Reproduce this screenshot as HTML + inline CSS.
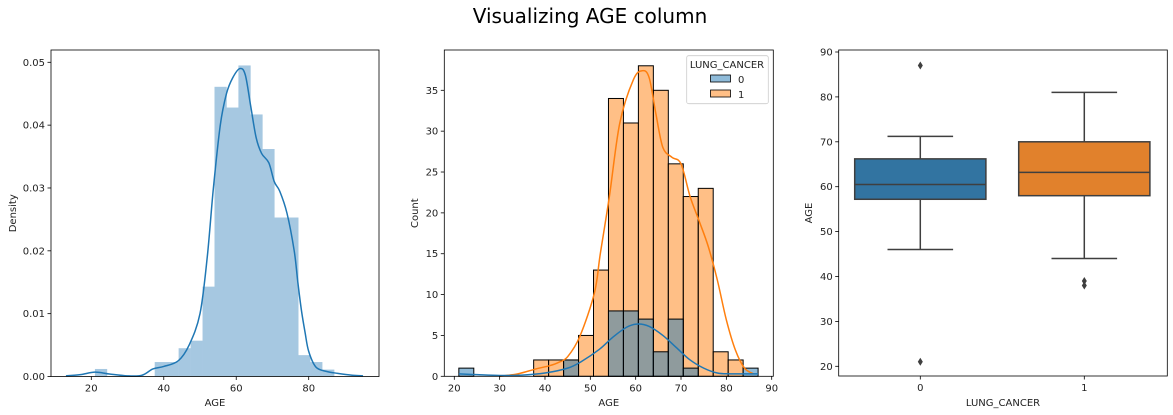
<!DOCTYPE html>
<html><head><meta charset="utf-8"><style>
html,body{margin:0;padding:0;background:#fff;width:1173px;height:415px;overflow:hidden}
svg{display:block;font-family:"DejaVu Sans","Liberation Sans",sans-serif}
</style></head><body>
<svg id="fig" width="1173" height="415" viewBox="0 0 1173 415" xmlns="http://www.w3.org/2000/svg">
<text x="590" y="23" text-anchor="middle" font-size="20" fill="#000">Visualizing AGE column</text>
</svg>
<script>
// ---------- data ----------
const binEdgesStart = 21, binWidth = 3.3;
const densityBins = [0.0012,0,0,0,0,0.0023,0.0023,0.0045,0.0057,0.0143,0.0461,0.0428,0.0495,0.0417,0.0362,0.0253,0.0253,0.0034,0.0023,0.0011];
const kdeAges = [13,17,21,25,30,34,37,40,44,47,50,52,53.7,55.6,57.3,59,61,62.5,64,65.5,67,69,70.5,72,74,76,77,78,79,80,82,85,88,92,95];
const kdeDensity = [0.0001,0.0003,0.0007,0.0004,0.0001,0.0002,0.0012,0.0016,0.0025,0.005,0.01,0.019,0.03,0.04,0.045,0.0475,0.049,0.048,0.043,0.038,0.0355,0.034,0.031,0.0295,0.026,0.02,0.015,0.0105,0.007,0.004,0.0015,0.0008,0.0005,0.0002,0.0001];
const countsCancer1 = [0,0,0,0,0,2,2,2,5,13,34,31,38,35,26,22,23,3,2,0];
const countsCancer0 = [1,0,0,0,0,0,0,2,0,0,8,8,7,3,7,1,0,0,0,1];
const kde1Ages = [30,34,38,41,43,45,47.7,50.9,52.2,54.2,56.5,59.5,61.5,63,64.5,66,68,70,72,74,76,78,80,82,84,86];
const kde1Counts = [0,0.3,0.9,1.3,1.7,2.4,4.9,10.2,15,22,31,36.3,37.4,36.5,32,28,26.8,26,22,19,15.9,11.8,6.9,3.2,1,0.3];
const kde0Ages = [21,25,30,35,40,45,48,52,55,58,60.5,63,66,69,72,75,78,81,87];
const kde0Counts = [0.3,0.2,0.1,0.15,0.4,1,1.8,3.3,4.8,6,6.4,6.1,5,3.5,2,1,0.4,0.3,0.3];
const boxCategories = ["0","1"];
const boxQ1 = [57.2,58], boxMed = [60.5,63.2], boxQ3 = [66.2,70];
const boxWhiskLo = [46,44], boxWhiskHi = [71.2,81];
const boxOutliers = [[87,21],[39,38]];
const ticks1X = [20,40,60,80], ticks1Y = [0,0.01,0.02,0.03,0.04,0.05];
const ticks2X = [20,30,40,50,60,70,80,90], ticks2Y = [0,5,10,15,20,25,30,35];
const ticks3Y = [20,30,40,50,60,70,80,90];

const NS="http://www.w3.org/2000/svg";
const fig=document.getElementById('fig');
function mk(tag,attrs,parent,txt){const e=document.createElementNS(NS,tag);for(const k in attrs)e.setAttribute(k,attrs[k]);if(txt!==undefined)e.textContent=txt;(parent||fig).appendChild(e);return e;}
function lin(d0,d1,r0,r1){return v=>r0+(v-d0)*(r1-r0)/(d1-d0);}
function frame(g,x0,y0,x1,y1){mk('rect',{x:x0,y:y0,width:x1-x0,height:y1-y0,fill:'none',stroke:'#000','stroke-width':0.8},g);}
function xtick(g,x,y,label){mk('line',{x1:x,x2:x,y1:y,y2:y+3.5,stroke:'#000','stroke-width':0.8},g);const t=mk('text',{x:x,y:y+15,'text-anchor':'middle','font-size':10,fill:'#222'},g,label);}
function ytick(g,x,y,label){mk('line',{x1:x-3.5,x2:x,y1:y,y2:y,stroke:'#000','stroke-width':0.8},g);const t=mk('text',{x:x-6,y:y+3.5,'text-anchor':'end','font-size':10,fill:'#222'},g,label);}
function pathFrom(xs,ys,X,Y){
 const P=xs.map((a,i)=>[X(a),Y(ys[i])]);
 let d='M'+P[0][0].toFixed(2)+','+P[0][1].toFixed(2);
 for(let i=0;i<P.length-1;i++){
  const p0=P[i-1]||P[i],p1=P[i],p2=P[i+1],p3=P[i+2]||P[i+1];
  const c1=[p1[0]+(p2[0]-p0[0])/6,p1[1]+(p2[1]-p0[1])/6];
  const c2=[p2[0]-(p3[0]-p1[0])/6,p2[1]-(p3[1]-p1[1])/6];
  d+=` C${c1[0].toFixed(2)},${c1[1].toFixed(2)} ${c2[0].toFixed(2)},${c2[1].toFixed(2)} ${p2[0].toFixed(2)},${p2[1].toFixed(2)}`;
 }
 return d;}

// ---------- panel 1 ----------
{
const g=mk('g',{});
const L=51,R=379,T=50,B=376.5;
const X=lin(20,80,91.3,308.7), Y=lin(0,0.05,376.5,62.3);
densityBins.forEach((d,i)=>{const a=binEdgesStart+i*binWidth;if(d<=0)return;
 const r=mk('rect',{x:X(a),y:Y(d),width:X(a+binWidth)-X(a)+0.3,height:Y(0)-Y(d),fill:'#a6c8e1'},g);
 });
const p=mk('path',{d:pathFrom(kdeAges,kdeDensity,X,Y),fill:'none',stroke:'#1f77b4','stroke-width':1.5},g);

frame(g,L,T,R,B);
ticks1X.forEach(v=>xtick(g,X(v),B,String(v)));
ticks1Y.forEach(v=>ytick(g,L,Y(v),v.toFixed(2)));
const xl=mk('text',{x:(L+R)/2,y:406,'text-anchor':'middle','font-size':10,fill:'#222'},g,'AGE');
const yl=mk('text',{x:16,y:(T+B)/2,'text-anchor':'middle','font-size':10,fill:'#222',transform:`rotate(-90 16 ${(T+B)/2})`},g,'Density');
}
// ---------- panel 2 ----------
{
const g=mk('g',{});
const L=444.3,R=773.3,T=50,B=376.3;
const X=lin(20,90,454.3,771.7), Y=lin(0,35,376.3,90.3);
countsCancer1.forEach((c,i)=>{const a=binEdgesStart+i*binWidth;if(c<=0)return;
 const r=mk('rect',{x:X(a),y:Y(c),width:X(a+binWidth)-X(a),height:Y(0)-Y(c),fill:'#ff7f0e','fill-opacity':0.5,stroke:'#000','stroke-width':1},g);
 });
countsCancer0.forEach((c,i)=>{const a=binEdgesStart+i*binWidth;if(c<=0)return;
 const r=mk('rect',{x:X(a),y:Y(c),width:X(a+binWidth)-X(a),height:Y(0)-Y(c),fill:'#1f77b4','fill-opacity':0.5,stroke:'#000','stroke-width':1},g);
 });
const p1=mk('path',{d:pathFrom(kde1Ages,kde1Counts,X,Y),fill:'none',stroke:'#ff7f0e','stroke-width':1.5},g);

const p0=mk('path',{d:pathFrom(kde0Ages,kde0Counts,X,Y),fill:'none',stroke:'#1f77b4','stroke-width':1.5},g);

frame(g,L,T,R,B);
ticks2X.forEach(v=>xtick(g,X(v),B,String(v)));
ticks2Y.forEach(v=>ytick(g,L,Y(v),String(v)));
const xl=mk('text',{x:(L+R)/2,y:406,'text-anchor':'middle','font-size':10,fill:'#222'},g,'AGE');
const yl=mk('text',{x:418,y:(T+B)/2,'text-anchor':'middle','font-size':10,fill:'#222',transform:`rotate(-90 418 ${(T+B)/2})`},g,'Count');
const lg=mk('g',{},g);
mk('rect',{x:686.7,y:55.7,width:81.6,height:48,rx:2,fill:'#fff','fill-opacity':0.85,stroke:'#ccc','stroke-width':0.8},lg);
mk('text',{x:727,y:68,'text-anchor':'middle','font-size':10,fill:'#222'},lg,'LUNG_CANCER');
const e0=mk('rect',{x:710.5,y:75,width:20,height:7,fill:'#1f77b4','fill-opacity':0.5,stroke:'#000','stroke-width':0.8},lg);
mk('text',{x:738,y:83,'font-size':10,fill:'#222'},lg,'0');
const e1=mk('rect',{x:710.5,y:90,width:20,height:7,fill:'#ff7f0e','fill-opacity':0.5,stroke:'#000','stroke-width':0.8},lg);
mk('text',{x:738,y:98,'font-size':10,fill:'#222'},lg,'1');
}
// ---------- panel 3 ----------
{
const g=mk('g',{});
const L=838.7,R=1167.3,T=50,B=376;
const X=lin(0,1,920.3,1084.3), Y=lin(20,90,366.3,52);
const colors=['#3274a1','#e1812c'], gray='#3f3f3f';
boxCategories.forEach((c,i)=>{
 const cx=X(i), hw=(X(1)-X(0))*0.4, cw=(X(1)-X(0))*0.2;
 const bg=mk('g',{},g);
 mk('line',{x1:cx,x2:cx,y1:Y(boxQ1[i]),y2:Y(boxWhiskLo[i]),stroke:gray,'stroke-width':1.5},bg);
 mk('line',{x1:cx,x2:cx,y1:Y(boxQ3[i]),y2:Y(boxWhiskHi[i]),stroke:gray,'stroke-width':1.5},bg);
 mk('line',{x1:cx-cw,x2:cx+cw,y1:Y(boxWhiskLo[i]),y2:Y(boxWhiskLo[i]),stroke:gray,'stroke-width':1.5},bg);
 mk('line',{x1:cx-cw,x2:cx+cw,y1:Y(boxWhiskHi[i]),y2:Y(boxWhiskHi[i]),stroke:gray,'stroke-width':1.5},bg);
 mk('rect',{x:cx-hw,y:Y(boxQ3[i]),width:2*hw,height:Y(boxQ1[i])-Y(boxQ3[i]),fill:colors[i],stroke:gray,'stroke-width':1.5},bg);
 mk('line',{x1:cx-hw,x2:cx+hw,y1:Y(boxMed[i]),y2:Y(boxMed[i]),stroke:gray,'stroke-width':1.5},bg);
 boxOutliers[i].forEach(o=>{const d=mk('path',{d:`M${cx},${Y(o)-4} L${cx+2.5},${Y(o)} L${cx},${Y(o)+4} L${cx-2.5},${Y(o)} Z`,fill:gray},bg);
  });
});
frame(g,L,T,R,B);
boxCategories.forEach((c,i)=>xtick(g,X(i),B,c));
ticks3Y.forEach(v=>ytick(g,L,Y(v),String(v)));
const xl=mk('text',{x:(L+R)/2,y:406,'text-anchor':'middle','font-size':10,fill:'#222'},g,'LUNG_CANCER');
const yl=mk('text',{x:812,y:(T+B)/2,'text-anchor':'middle','font-size':10,fill:'#222',transform:`rotate(-90 812 ${(T+B)/2})`},g,'AGE');
}
</script>
</body></html>
